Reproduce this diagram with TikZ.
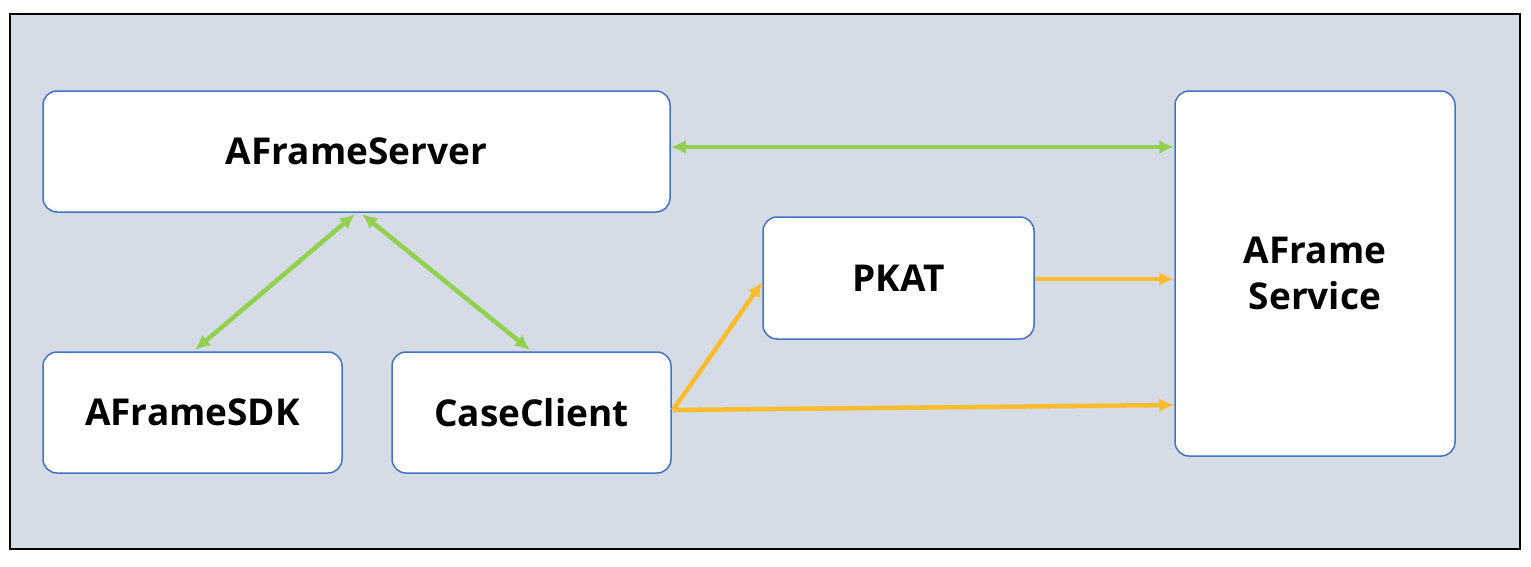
\documentclass[tikz,border=0pt]{standalone}
\usepackage{fontspec}
\setmainfont{Open Sans}
\usetikzlibrary{arrows.meta}
\definecolor{bg}{HTML}{D6DCE5}
\definecolor{bd}{HTML}{4472C4}
\definecolor{gr}{HTML}{92D050}
\definecolor{og}{HTML}{FBBD2D}
\begin{document}
\begin{tikzpicture}[x=1pt,y=-1pt,
  box/.style={draw=bd,line width=1.5pt,fill=white,rounded corners=14pt,font=\fontsize{37}{46}\selectfont\bfseries,align=center},
  ga/.style={draw=gr,line width=4.5pt,{Latex[length=15pt,width=14pt]}-{Latex[length=15pt,width=14pt]}},
  oa/.style={draw=og,line width=4.5pt,-{Latex[length=15pt,width=14pt]}}]
\useasboundingbox (0,0) rectangle (1531,566);
\fill[white] (0,0) rectangle (1531,566);
\draw[fill=bg,line width=1.5pt] (10,14) rectangle (1520,549);
\node[box,minimum width=627pt,minimum height=121pt] (srv) at (356.5,151.5) {AFrameServer};
\node[box,minimum width=299pt,minimum height=121pt] (sdk) at (192.5,412.5) {AFrameSDK};
\node[box,minimum width=279pt,minimum height=121pt] (cc) at (531.5,412.5) {CaseClient};
\node[box,minimum width=271pt,minimum height=122pt] (pk) at (898.5,278) {PKAT};
\node[box,minimum width=280pt,minimum height=365pt,text width=260pt] (svc) at (1315,273.5) {AFrame\\Service};
\coordinate (c1) at (673,410);
\draw[ga] (srv.east|-0,147) -- (svc.west|-0,147);
\draw[ga] (355,214) -- (195,350);
\draw[ga] (362,214) -- (530,350);
\draw[oa] (c1) -- (pk.west|-0,282);
\draw[oa] (pk.east|-0,279) -- (svc.west|-0,279);
\draw[oa] (c1) -- (svc.west|-0,405);
\end{tikzpicture}
\end{document}
